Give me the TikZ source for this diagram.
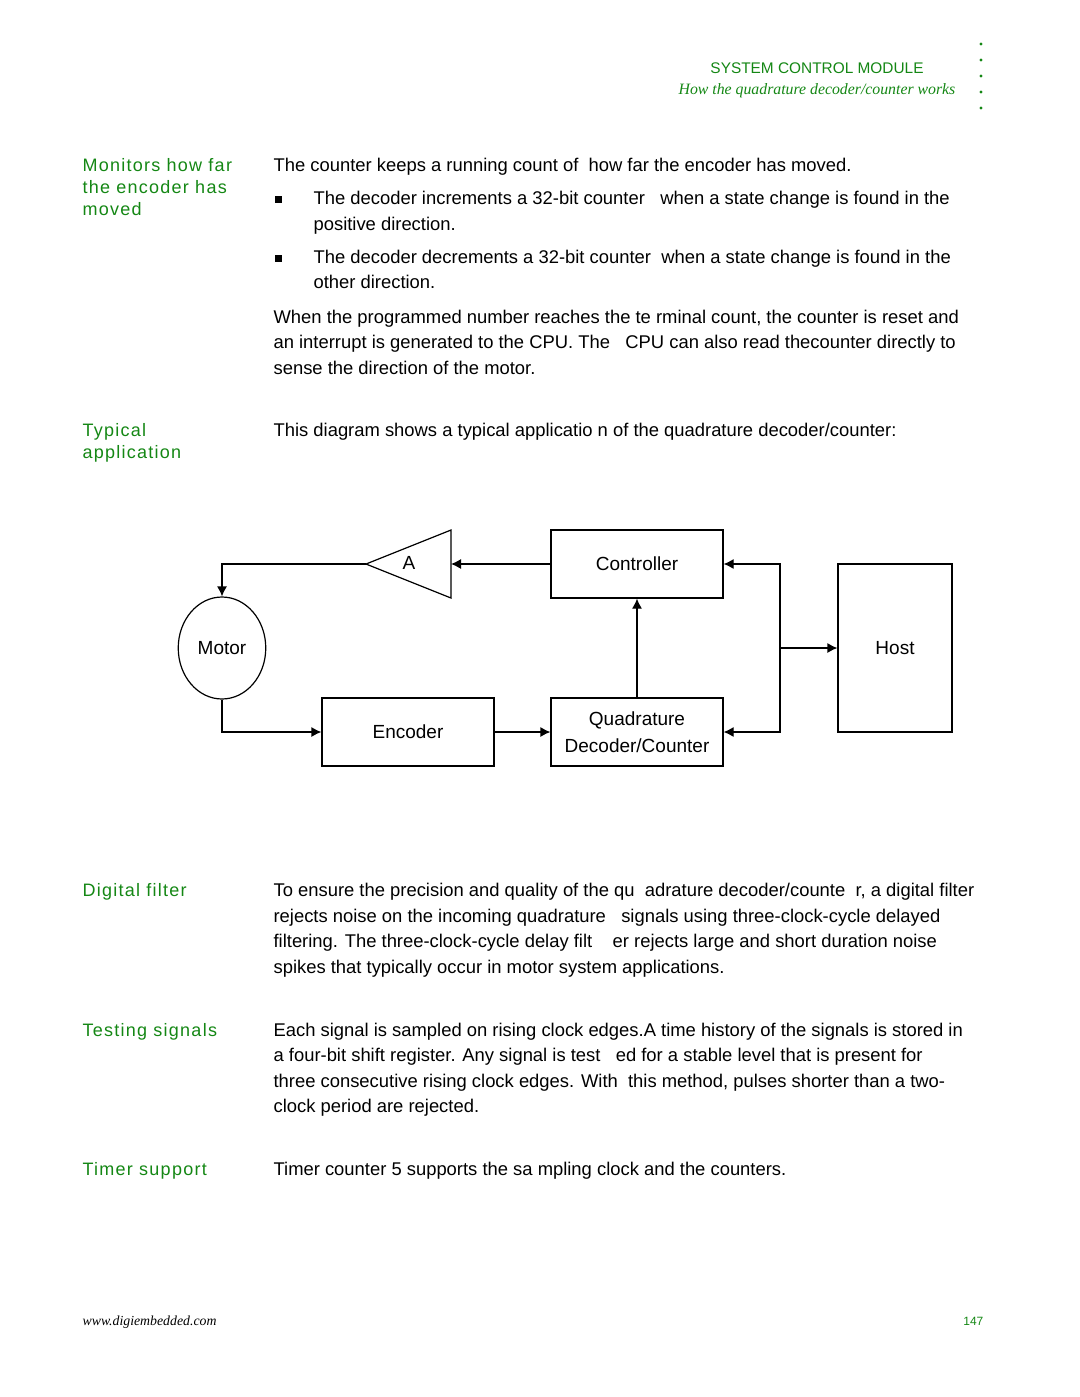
\documentclass[tikz,border=0pt]{standalone}
\usepackage{fontspec}
\setmainfont{Liberation Sans}
\newfontfamily\serifface{Liberation Serif}
\newfontfamily\sidefont{Liberation Sans}[LetterSpace=7]
\usetikzlibrary{arrows.meta,shapes.geometric}
\definecolor{pagegreen}{RGB}{20,135,20}

\begin{document}
\begin{tikzpicture}[x=0.5pt,y=-0.5pt,line width=0.6pt,
	body/.style={anchor=base west,inner sep=0pt,font=\fontsize{9.2}{11}\selectfont},
	side/.style={anchor=base west,inner sep=0pt,text=pagegreen,font=\sidefont\fontsize{9}{11}\selectfont},
	block/.style={draw,minimum width=86pt,minimum height=34pt,align=center,font=\fontsize{9.5}{13.5}\selectfont},
	link/.style={-{Latex[length=5pt,width=5pt]}}]
	\useasboundingbox (0,0) rectangle (1080,1397);
	
	\node[anchor=base,inner sep=0pt,text=pagegreen,font=\fontsize{7.7}{9}\selectfont] (head) at (817,73) {SYSTEM CONTROL MODULE};
	\node[anchor=base,inner sep=0pt,text=pagegreen,font=\serifface\itshape\fontsize{7.9}{10}\selectfont] (subhead) at (817,94) {How the quadrature decoder/counter works};
	\foreach \y in {44,60,76,92,108}
		\fill[pagegreen] (981,\y) circle (0.8pt);
	
	\node[side] (s1a) at (82,171) {Monitors how far};
	\node[side] (s1b) at (82,193) {the encoder has};
	\node[side] (s1c) at (82,215) {moved};
	\node[body] (t1) at (273,171) {The counter keeps a running count of\ \ how far the encoder has moved.};
	\fill (275,196) rectangle (282,203);
	\node[body] (b1a) at (313,204) {The decoder increments a 32-bit counter\ \ \ when a state change is found in the};
	\node[body] (b1b) at (313,230) {positive direction.};
	\fill (275,255) rectangle (282,262);
	\node[body] (b2a) at (313,263) {The decoder decrements a 32-bit counter\ \ when a state change is found in the};
	\node[body] (b2b) at (313,288) {other direction.};
	\node[body] (t2a) at (273,323) {When the programmed number reaches the te rminal count, the counter is reset and};
	\node[body] (t2b) at (273,348) {an interrupt is generated to the CPU. The\ \ \ CPU can also read thecounter directly to};
	\node[body] (t2c) at (273,374) {sense the direction of the motor.};
	
	\node[side] (s2a) at (82,436) {Typical};
	\node[side] (s2b) at (82,458) {application};
	\node[body] (t3) at (273,436) {This diagram shows a typical applicatio n of the quadrature decoder/counter:};
	
	\node[block] (ctrl) at (637,564) {Controller};
	\node[block] (qdc) at (637,732) {Quadrature\\Decoder/Counter};
	\node[block] (enc) at (408,732) {Encoder};
	\node[block,minimum width=57pt,minimum height=84pt] (host) at (895,648) {Host};
	\node[draw,ellipse,minimum width=43pt,minimum height=51pt,font=\fontsize{9.5}{11}\selectfont] (motor) at (222,648) {Motor};
	\coordinate (amptip) at (366,564);
	\coordinate (ampin) at (451,564);
	\draw (amptip) -- (451,530) -- (451,598) -- cycle;
	\node[font=\fontsize{9.5}{11}\selectfont] (amp) at (409,563) {A};
	\coordinate (bus) at (780,648);
	
	\draw[link] (ctrl.west) -- (ampin);
	\draw[link] (amptip) -| (motor.north);
	\draw[link] (motor.south) |- (enc.west);
	\draw[link] (enc) -- (qdc);
	\draw[link] (qdc) -- (ctrl);
	\draw[link] (bus) |- (ctrl.east);
	\draw[link] (bus) |- (qdc.east);
	\draw[link] (bus) -- (host.west);
	
	\node[side] (s3) at (82,896) {Digital filter};
	\node[body] (t4a) at (273,896) {To ensure the precision and quality of the qu\ \ adrature decoder/counte\ \ r, a digital filter};
	\node[body] (t4b) at (273,922) {rejects noise on the incoming quadrature\ \ \ signals using three-clock-cycle delayed};
	\node[body] (t4c) at (273,947) {filtering. The three-clock-cycle delay filt\ \ \ \ er rejects large and short duration noise};
	\node[body] (t4d) at (273,973) {spikes that typically occur in motor system applications.};
	
	\node[side] (s4) at (82,1036) {Testing signals};
	\node[body] (t5a) at (273,1036) {Each signal is sampled on rising clock edges.A time history of the signals is stored in};
	\node[body] (t5b) at (273,1061) {a four-bit shift register. Any signal is test\ \ \ ed for a stable level that is present for};
	\node[body] (t5c) at (273,1087) {three consecutive rising clock edges. With\ \ this method, pulses shorter than a two-};
	\node[body] (t5d) at (273,1112) {clock period are rejected.};
	
	\node[side] (s5) at (82,1175) {Timer support};
	\node[body] (t6) at (273,1175) {Timer counter 5 supports the sa mpling clock and the counters.};
	
	\node[anchor=base west,inner sep=0pt,font=\serifface\itshape\fontsize{6.9}{8}\selectfont] (url) at (82,1325) {www.digiembedded.com};
	\node[anchor=base east,inner sep=0pt,text=pagegreen,font=\fontsize{6}{7}\selectfont] (pageno) at (984,1325) {147};
\end{tikzpicture}
\end{document}
